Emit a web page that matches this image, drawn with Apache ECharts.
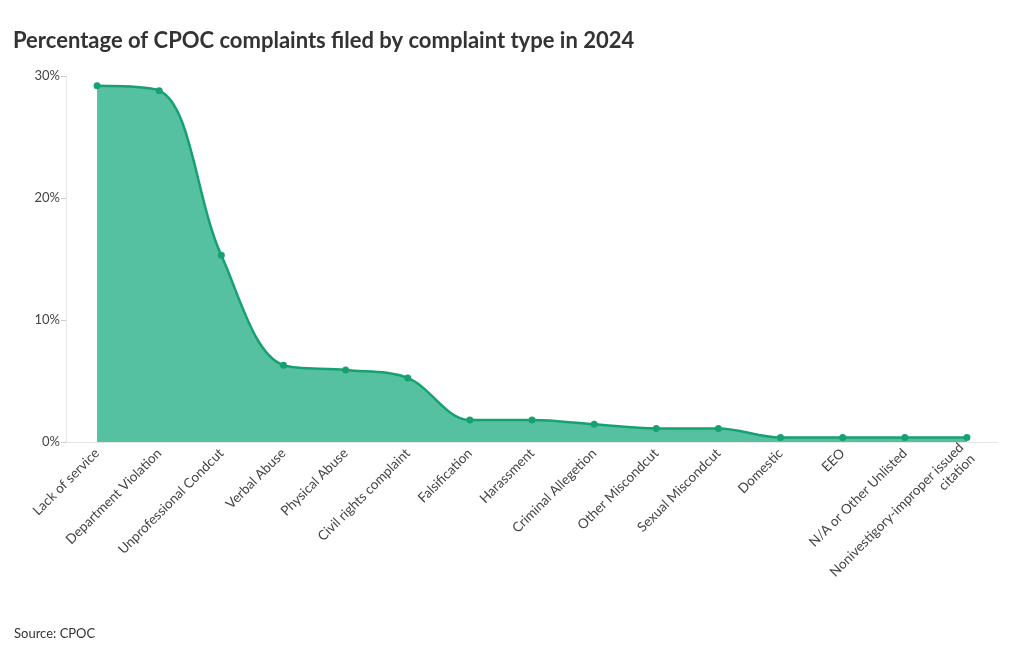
<!DOCTYPE html>
<html><head><meta charset="utf-8">
<script src="https://cdn.jsdelivr.net/npm/echarts@6/dist/echarts.min.js"></script>
<style>html,body{margin:0;padding:0;background:#fff}#c{width:1020px;height:650px}</style>
</head><body><div id="c"></div>
<script>
const categories = ["Lack of service","Department Violation","Unprofessional Condcut","Verbal Abuse","Physical Abuse","Civil rights complaint","Falsification","Harassment","Criminal Allegetion","Other Miscondcut","Sexual Miscondcut","Domestic","EEO","N/A or Other Unlisted","Nonivestigory-improper issued\ncitation"];
const values = [29.2, 28.8, 15.3, 6.3, 5.9, 5.25, 1.8, 1.8, 1.45, 1.1, 1.1, 0.36, 0.36, 0.36, 0.36];
const yTicks = [0, 10, 20, 30];

const chart = echarts.init(document.getElementById('c'));
const font = 'Lato, "Open Sans", sans-serif';
chart.setOption({
  animation: false,
  textStyle: {fontFamily: font},
  title: [
    {text: 'Percentage of CPOC complaints filed by complaint type in 2024', left: 8, top: 25,
     textStyle: {fontSize: 22, fontWeight: 'bold', color: '#333', fontFamily: font}},
    {text: 'Source: CPOC', left: 9, top: 622, textStyle: {fontSize: 13, fontWeight: 'normal', color: '#333', fontFamily: font}}
  ],
  grid: {left: 66, right: 22, top: 76, bottom: 208},
  xAxis: {
    type: 'category', data: categories, boundaryGap: true,
    axisLine: {lineStyle: {color: '#e6e6e6'}},
    axisTick: {alignWithLabel: true, length: 5, lineStyle: {color: '#e6e6e6'}},
    axisLabel: {rotate: 45, interval: 0, color: '#444', fontSize: 13.5, margin: 9, align: 'right', lineHeight: 16}
  },
  yAxis: {
    type: 'value', min: 0, max: 30, interval: 10,
    axisLine: {show: true, lineStyle: {color: '#e6e6e6'}},
    axisTick: {show: true, length: 5, lineStyle: {color: '#ccc'}},
    splitLine: {show: false},
    axisLabel: {formatter: v => yTicks.includes(v) ? v + '%' : '', color: '#444', fontSize: 13, margin: 6}
  },
  series: [{
    type: 'line', data: values, smooth: 0.35,
    symbol: 'circle', symbolSize: 7,
    lineStyle: {color: '#16a172', width: 2.5},
    itemStyle: {color: '#16a172'},
    areaStyle: {color: '#56c1a1', opacity: 1}
  }]
});
</script></body></html>
